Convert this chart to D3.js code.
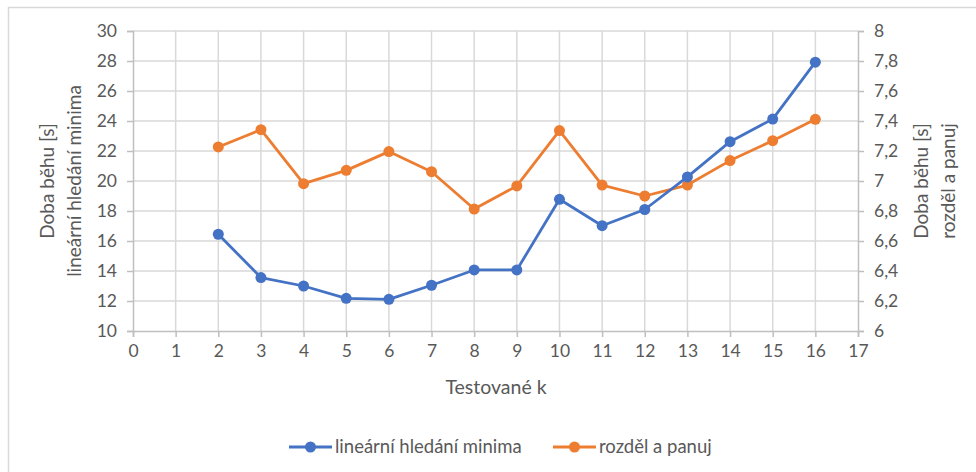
<!DOCTYPE html>
<html><head><meta charset="utf-8">
<script src="https://cdn.jsdelivr.net/npm/d3@7"></script>
<style>body{margin:0;background:#fff}svg{display:block}text{font-family:Lato,"Open Sans",sans-serif;fill:#595959}</style>
</head><body><svg id="c" width="976" height="472"></svg>
<script>
const kValues = [2,3,4,5,6,7,8,9,10,11,12,13,14,15,16];
const linearMin = [16.45,13.56,13.0,12.18,12.11,13.05,14.07,14.07,18.78,17.02,18.1,20.27,22.62,24.13,27.92];
const divideConquer = [7.227,7.342,6.982,7.071,7.196,7.062,6.813,6.967,7.336,6.973,6.9,6.973,7.136,7.269,7.411];
const xTicks = d3.range(0,18);
const leftTicks = [10,12,14,16,18,20,22,24,26,28,30];
const rightTicks = [6,6.2,6.4,6.6,6.8,7,7.2,7.4,7.6,7.8,8];
const seriesNames = ["lineární hledání minima","rozděl a panuj"];
const colors = ["#4472C4","#ED7D31"];

const svg = d3.select("#c");
const L=133,R=858,T=31,B=331;
const x = d3.scaleLinear().domain([0,17]).range([L,R]);
const yL = d3.scaleLinear().domain([10,30]).range([B,T]);
const yR = d3.scaleLinear().domain([6,8]).range([B,T]);

// outer frame (left & top visible)
svg.append("path").attr("d","M8.5,472 V7.5 H976").attr("fill","none").attr("stroke","#d9d9d9").attr("stroke-width",1.5);

// grid
const g = svg.append("g");
g.selectAll(".vg").data(xTicks.slice(1,-1)).join("line")
 .attr("x1",d=>x(d)).attr("x2",d=>x(d)).attr("y1",T).attr("y2",B)
 .attr("stroke","#d9d9d9").attr("stroke-width",1.5);
g.selectAll(".hg").data(leftTicks.slice(1)).join("line")
 .attr("x1",L).attr("x2",R).attr("y1",d=>yL(d)).attr("y2",d=>yL(d))
 .attr("stroke","#d9d9d9").attr("stroke-width",1.5);

// axes
const fmtR = d=>String(d).replace(".",",");
const ax = svg.append("g").attr("transform",`translate(0,${B})`)
 .call(d3.axisBottom(x).tickValues(xTicks).tickSize(6).tickPadding(8).tickFormat(d3.format("d")));
const ayl = svg.append("g").attr("transform",`translate(${L},0)`)
 .call(d3.axisLeft(yL).tickValues(leftTicks).tickSize(6).tickPadding(10).tickFormat(d3.format("d")));
const ayr = svg.append("g").attr("transform",`translate(${R},0)`)
 .call(d3.axisRight(yR).tickValues(rightTicks).tickSize(6).tickPadding(10).tickFormat(fmtR));
[ax,ayl,ayr].forEach(a=>{
  a.select(".domain").attr("stroke","#bfbfbf").attr("stroke-width",1.5);
  a.selectAll(".tick line").attr("stroke","#bfbfbf").attr("stroke-width",1.5);
  a.selectAll(".tick text").style("font-size","17.5px").attr("fill","#595959");
});

// axis titles
const lt = svg.append("text").attr("transform",`translate(54,181) rotate(-90)`)
 .attr("text-anchor","middle").style("font-size","19px");
lt.append("tspan").attr("x",0).attr("dy",0).text("Doba běhu [s]");
lt.append("tspan").attr("x",0).attr("dy",27).text("lineární hledání minima");
const rt = svg.append("text").attr("transform",`translate(928,181) rotate(-90)`)
 .attr("text-anchor","middle").style("font-size","19px");
rt.append("tspan").attr("x",0).attr("dy",0).text("Doba běhu [s]");
rt.append("tspan").attr("x",0).attr("dy",27).text("rozděl a panuj");
svg.append("text").attr("x",496).attr("y",394).attr("text-anchor","middle").style("font-size","19.5px").text("Testované k");

// series
const data = [kValues.map((k,i)=>[k,linearMin[i]]), kValues.map((k,i)=>[k,divideConquer[i]])];
const scales=[yL,yR];
[1,0].forEach(s=>{
  const ys=scales[s];
  svg.append("path").datum(data[s]).attr("fill","none").attr("stroke",colors[s]).attr("stroke-width",2.8)
   .attr("stroke-linejoin","round").attr("d",d3.line().x(d=>x(d[0])).y(d=>ys(d[1])));
  svg.append("g").selectAll("circle").data(data[s]).join("circle")
   .attr("cx",d=>x(d[0])).attr("cy",d=>ys(d[1])).attr("r",5.5).attr("fill",colors[s]);
});

// legend
const legX=[289,553];
seriesNames.forEach((n,i)=>{
  const lg=svg.append("g").attr("transform",`translate(${legX[i]},447)`);
  lg.append("line").attr("x1",0).attr("x2",43).attr("stroke",colors[i]).attr("stroke-width",2.8);
  lg.append("circle").attr("cx",21.5).attr("r",5.5).attr("fill",colors[i]);
  lg.append("text").attr("x",46).attr("y",6).style("font-size","18.5px").text(n);
});
</script></body></html>
